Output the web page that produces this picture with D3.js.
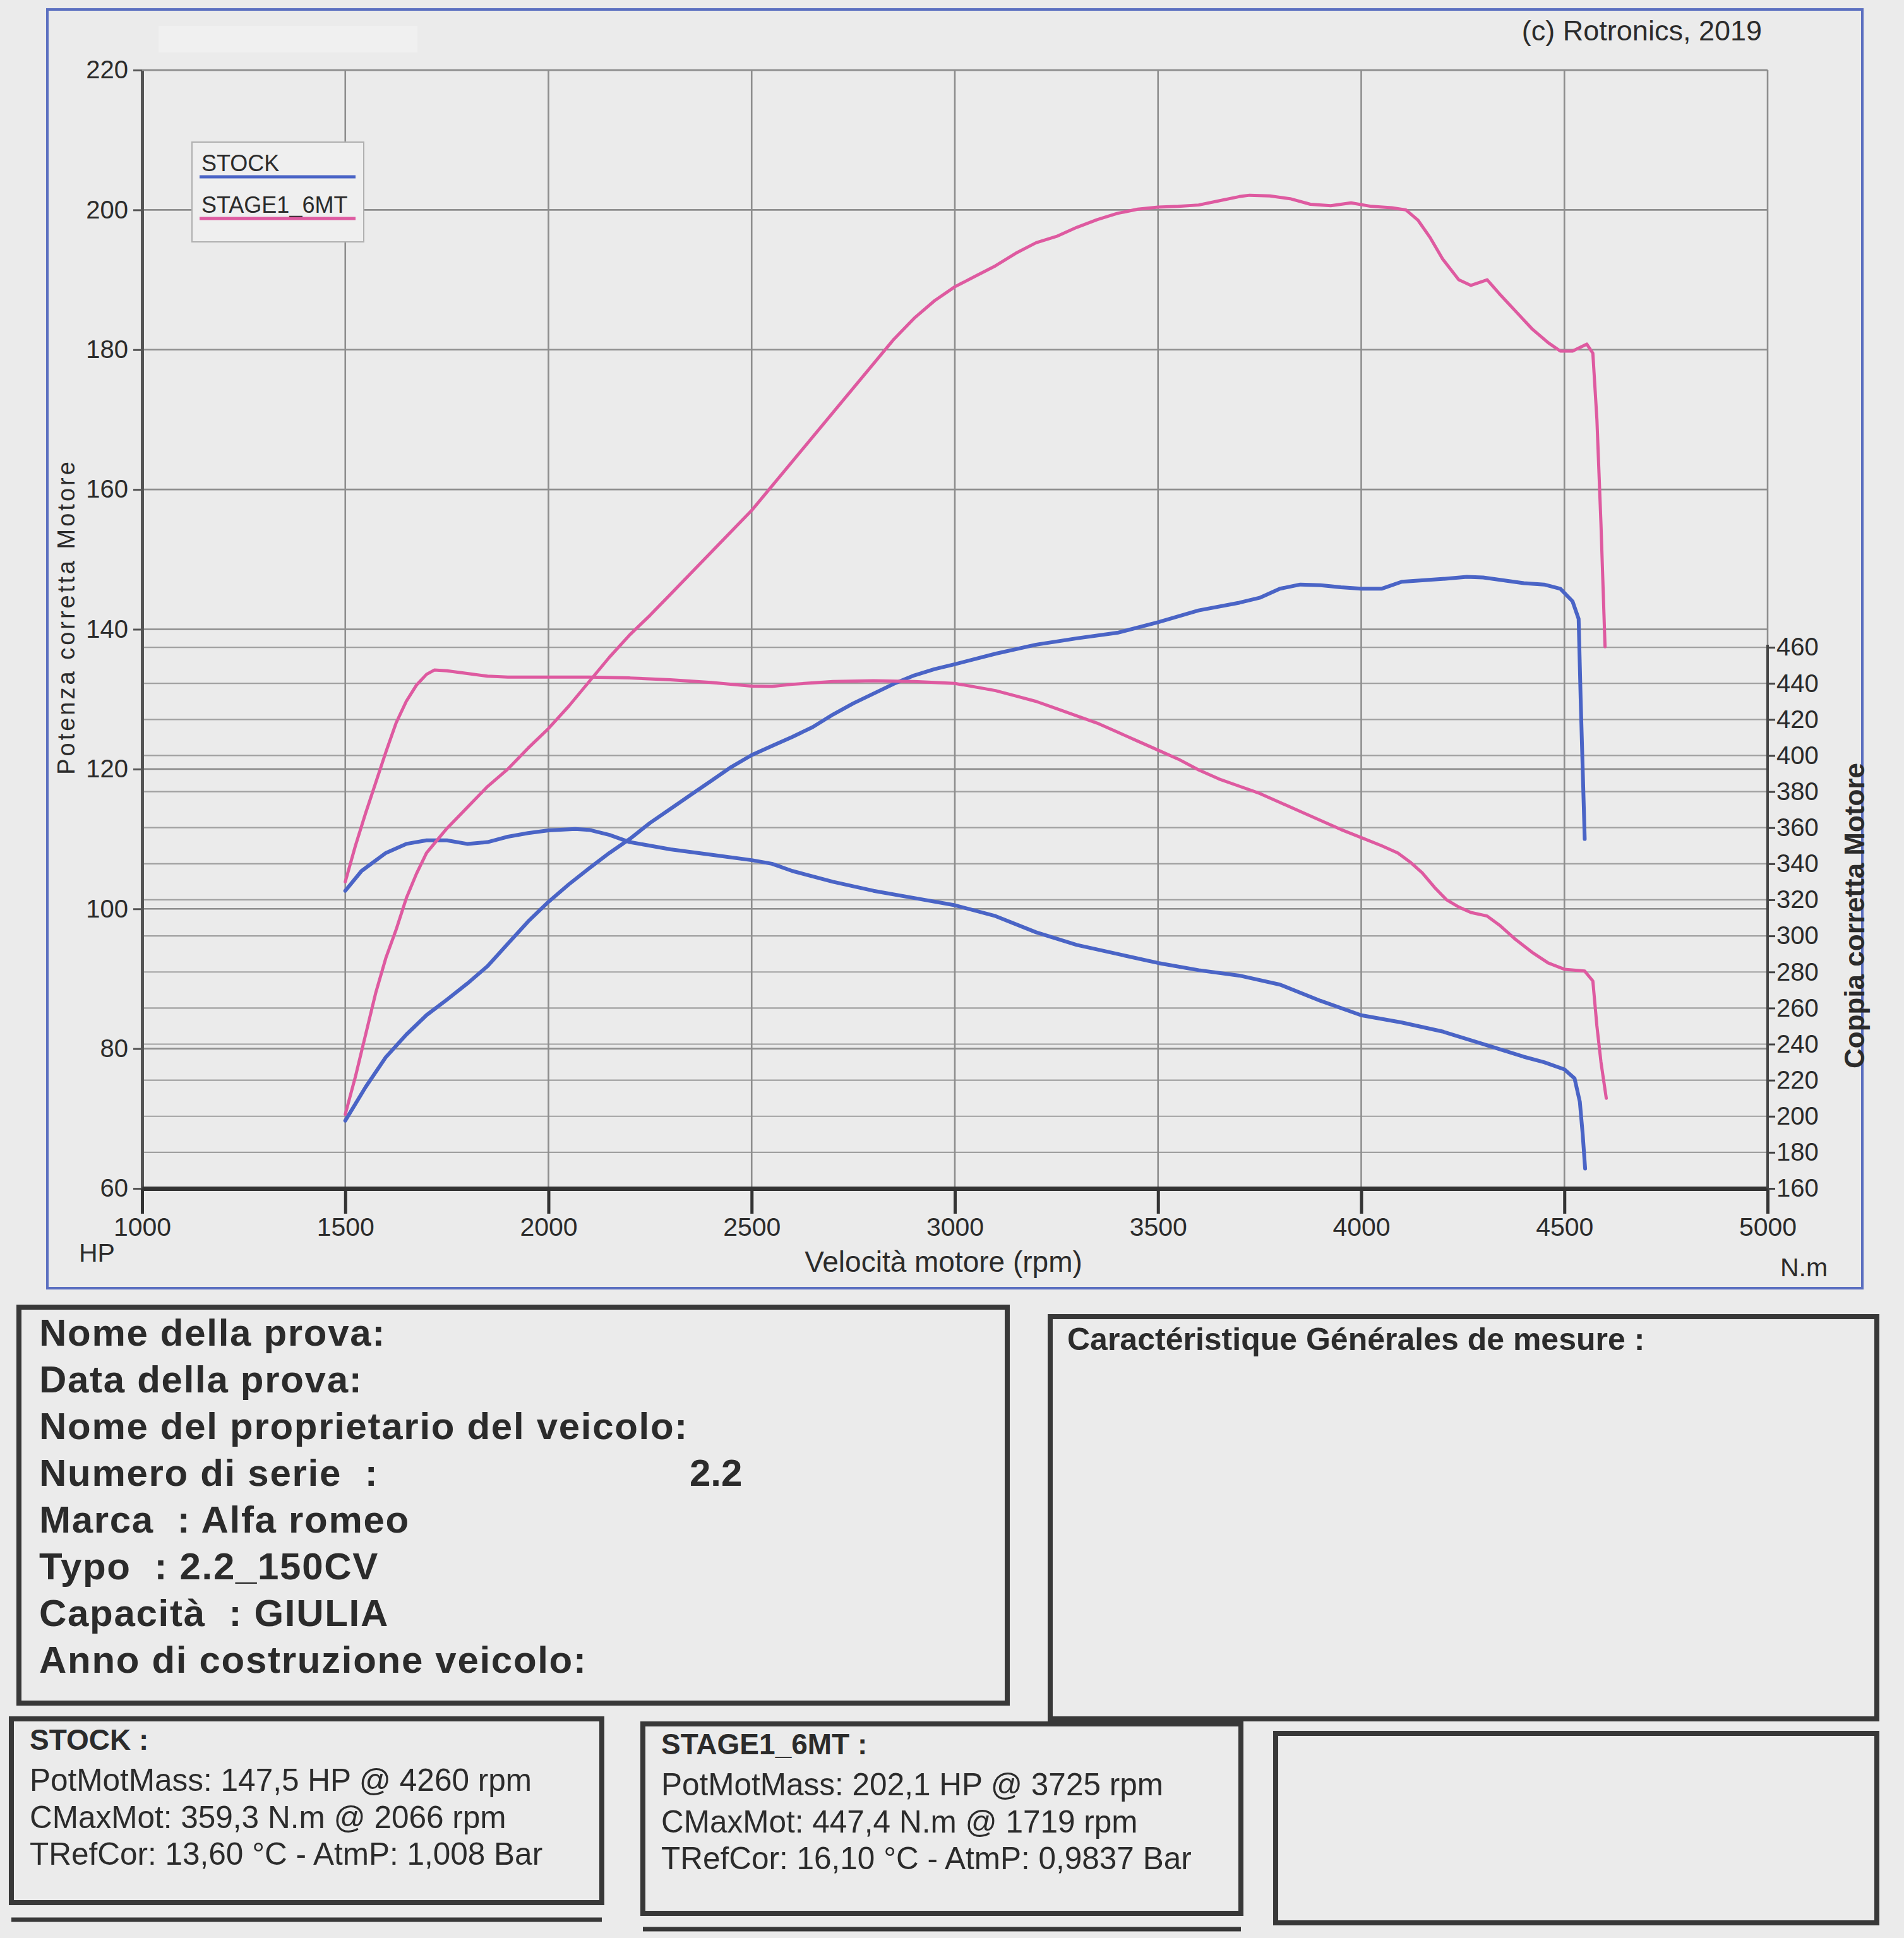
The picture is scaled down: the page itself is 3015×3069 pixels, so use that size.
<!DOCTYPE html>
<html>
<head>
<meta charset="utf-8">
<script src="https://cdn.jsdelivr.net/npm/d3@7/dist/d3.min.js"></script>
<style>
body { margin: 0; background: #ebebeb; }
svg text { font-family: "Liberation Sans", Arial, sans-serif; fill: #2b2b2b; white-space: pre; }
</style>
</head>
<body>
<svg id="chart" width="3015" height="3069"></svg>
<script>

// axis ticks
var rpmTicks = [1000, 1500, 2000, 2500, 3000, 3500, 4000, 4500, 5000];
var hpTicks  = [60, 80, 100, 120, 140, 160, 180, 200, 220];
var nmTicks  = [160, 180, 200, 220, 240, 260, 280, 300, 320, 340, 360, 380, 400, 420, 440, 460];

var seriesNames  = ['STOCK', 'STAGE1_6MT'];
var seriesColors = ['#4a64c6', '#de5aa0'];

// STOCK - power (HP)
var stockRpm = [1500, 1550, 1600, 1650, 1700, 1750, 1800, 1850, 1900, 1950, 2000, 2050, 2100, 2150, 2200,
    2250, 2300, 2350, 2400, 2450, 2500, 2550, 2600, 2650, 2700, 2750, 2800, 2850, 2900, 2950, 3000, 3100,
    3200, 3300, 3400, 3500, 3600, 3700, 3750, 3800, 3850, 3900, 3950, 4000, 4050, 4100, 4150, 4200, 4260,
    4300, 4350, 4400, 4450, 4490, 4520, 4535, 4540, 4545, 4550];
var stockHp = [69.7, 74.5, 78.8, 82, 84.8, 87, 89.3, 91.8, 95, 98.2, 101, 103.5, 105.8, 108, 110,
    112.3, 114.3, 116.3, 118.3, 120.3, 122, 123.3, 124.6, 126, 127.8, 129.4, 130.8, 132.2, 133.4, 134.3, 135, 136.5,
    137.8, 138.7, 139.5, 141, 142.7, 143.8, 144.5, 145.8, 146.4, 146.3, 146, 145.8, 145.8, 146.8, 147, 147.2, 147.5,
    147.4, 147, 146.6, 146.4, 145.8, 144, 141.5, 130, 120, 110];

// STOCK - torque (N.m)
var stockTqRpm = [1500, 1540, 1600, 1650, 1700, 1750, 1800, 1850, 1900, 1950, 2000, 2066, 2100, 2150, 2200,
    2250, 2300, 2400, 2500, 2550, 2600, 2700, 2800, 2900, 3000, 3100, 3200, 3300, 3400, 3500, 3600, 3700,
    3800, 3900, 4000, 4050, 4100, 4200, 4300, 4400, 4450, 4500, 4525, 4538, 4545, 4551];
var stockNm = [325, 336, 346, 351, 353, 353, 351, 352, 355, 357, 358.5, 359.3, 358.8, 356, 352,
    350, 348, 345, 342, 340, 336, 330, 325, 321, 317, 311, 302, 295, 290, 285, 281, 278,
    273, 264, 256, 254, 252, 247, 240, 233, 230, 226, 221, 208, 190, 171];

// STAGE1_6MT - power (HP)
var stageRpm = [1500, 1525, 1550, 1575, 1600, 1625, 1650, 1675, 1700, 1750, 1800, 1850, 1900, 1950, 2000,
    2050, 2100, 2150, 2200, 2250, 2300, 2350, 2400, 2450, 2500, 2550, 2600, 2650, 2700, 2750, 2800, 2850,
    2900, 2950, 3000, 3050, 3100, 3150, 3200, 3250, 3300, 3350, 3400, 3450, 3500, 3550, 3600, 3650, 3700,
    3725, 3775, 3825, 3875, 3925, 3975, 4025, 4075, 4110, 4140, 4170, 4200, 4240, 4270, 4310, 4340, 4380,
    4420, 4460, 4490, 4520, 4555, 4570, 4580, 4590, 4600];
var stageHp = [70.6, 76, 82, 88, 93, 97, 101.5, 105, 108, 111.5, 114.5, 117.5, 120, 123, 125.8,
    129, 132.5, 136, 139.2, 142, 145, 148, 151, 154, 157, 160.5, 164, 167.5, 171, 174.5, 178, 181.5,
    184.5, 187, 189, 190.5, 192, 193.8, 195.3, 196.2, 197.5, 198.6, 199.5, 200.1, 200.4, 200.5, 200.7, 201.3, 201.9,
    202.1, 202, 201.6, 200.8, 200.6, 201, 200.5, 200.3, 200, 198.5, 196, 193, 190, 189.2, 190, 188, 185.5,
    183, 181, 179.8, 179.8, 180.8, 179.5, 170, 155, 137.5];

// STAGE1_6MT - torque (N.m)
var stageTqRpm = [1500, 1525, 1550, 1575, 1600, 1625, 1650, 1675, 1700, 1719, 1750, 1800, 1850, 1900, 2000,
    2100, 2200, 2300, 2400, 2500, 2550, 2600, 2700, 2800, 2900, 3000, 3050, 3100, 3150, 3200, 3250, 3300,
    3350, 3400, 3450, 3500, 3550, 3600, 3650, 3700, 3750, 3800, 3850, 3900, 3950, 4000, 4050, 4090, 4120,
    4150, 4180, 4210, 4240, 4270, 4310, 4340, 4380, 4420, 4460, 4500, 4550, 4570, 4580, 4590, 4603];
var stageNm = [330, 350, 368, 385, 402, 418, 430, 439, 445, 447.4, 447, 445.5, 444, 443.5, 443.5,
    443.5, 443, 442, 440.5, 438.5, 438.3, 439.5, 441, 441.5, 441, 440, 438, 436, 433, 430, 426, 422,
    418, 413, 408, 403, 398, 392, 387, 383, 379, 374, 369, 364, 359, 354.5, 350, 346, 341,
    335, 327, 320, 316, 313, 311, 306, 298, 291, 285, 281.5, 280.5, 275, 250, 230, 210];

// texts under the chart
var testFields = ['Nome della prova:', 'Data della prova:', 'Nome del proprietario del veicolo:',
    'Numero di serie  :', 'Marca  : Alfa romeo', 'Typo  : 2.2_150CV', 'Capacit\u00e0  : GIULIA',
    'Anno di costruzione veicolo:'];
var serialValue = '2.2';
var measureTitle = 'Caract\u00e9ristique G\u00e9n\u00e9rales de mesure :';
var stockSummary = ['STOCK :', 'PotMotMass: 147,5 HP @ 4260 rpm', 'CMaxMot: 359,3 N.m @ 2066 rpm',
    'TRefCor: 13,60 \u00b0C - AtmP: 1,008 Bar'];
var stageSummary = ['STAGE1_6MT :', 'PotMotMass: 202,1 HP @ 3725 rpm', 'CMaxMot: 447,4 N.m @ 1719 rpm',
    'TRefCor: 16,10 \u00b0C - AtmP: 0,9837 Bar'];

var svg = d3.select('#chart');

var L = 225, R = 2799, T = 111, B = 1882;

var x   = d3.scaleLinear().domain([1000, 5000]).range([L, R]);
var yHp = d3.scaleLinear().domain([60, 220]).range([B, T]);
var yNm = d3.scaleLinear().domain([160, 780]).range([B, T]);

var fmt = d3.format('d');

// page frame (blue)
svg.append('rect')
    .attr('x', 75).attr('y', 15).attr('width', 2874).attr('height', 2025)
    .attr('fill', 'none').attr('stroke', '#5b6fc0').attr('stroke-width', 4);

// faint patch at the top
svg.append('rect')
    .attr('x', 251).attr('y', 41).attr('width', 410).attr('height', 42)
    .attr('fill', '#f0f0f0');

svg.append('text')
    .attr('x', 2790).attr('y', 64)
    .attr('text-anchor', 'end')
    .attr('font-size', 45)
    .text('(c) Rotronics, 2019');

// grid
var grid = svg.append('g');

grid.selectAll('.nmgrid')
    .data(nmTicks.slice(1))
    .enter().append('line')
    .attr('x1', L).attr('x2', R)
    .attr('y1', function(d) { return yNm(d); })
    .attr('y2', function(d) { return yNm(d); })
    .attr('stroke', '#a0a0a0').attr('stroke-width', 2.2);

grid.selectAll('.hpgrid')
    .data(hpTicks.slice(1))
    .enter().append('line')
    .attr('x1', L).attr('x2', R)
    .attr('y1', function(d) { return yHp(d); })
    .attr('y2', function(d) { return yHp(d); })
    .attr('stroke', '#8e8e8e').attr('stroke-width', 2.6);

grid.selectAll('.rpmgrid')
    .data(rpmTicks.slice(1))
    .enter().append('line')
    .attr('x1', function(d) { return x(d); })
    .attr('x2', function(d) { return x(d); })
    .attr('y1', T).attr('y2', B)
    .attr('stroke', '#8e8e8e').attr('stroke-width', 2.6);

// left axis (HP)
var axL = svg.append('g')
    .attr('transform', 'translate(' + L + ',0)')
    .call(d3.axisLeft(yHp).tickValues(hpTicks).tickFormat(fmt).tickSize(14).tickPadding(8).tickSizeOuter(0));
axL.select('.domain').attr('stroke', '#555').attr('stroke-width', 5);
axL.selectAll('.tick line').attr('stroke', '#555').attr('stroke-width', 3);
axL.selectAll('.tick text').attr('font-size', 40).attr('fill', '#2b2b2b')
    .attr('font-family', '"Liberation Sans", Arial, sans-serif');

// bottom axis (rpm)
var axB = svg.append('g')
    .attr('transform', 'translate(0,' + B + ')')
    .call(d3.axisBottom(x).tickValues(rpmTicks).tickFormat(fmt).tickSize(40).tickPadding(6).tickSizeOuter(0));
axB.select('.domain').attr('stroke', '#333').attr('stroke-width', 7);
axB.selectAll('.tick line').attr('stroke', '#333').attr('stroke-width', 5);
axB.selectAll('.tick text').attr('font-size', 41).attr('fill', '#2b2b2b')
    .attr('font-family', '"Liberation Sans", Arial, sans-serif');

// right axis (N.m)
var axR = svg.append('g')
    .attr('transform', 'translate(' + R + ',0)')
    .call(d3.axisRight(yNm).tickValues(nmTicks).tickFormat(fmt).tickSize(12).tickPadding(2).tickSizeOuter(0));
axR.select('.domain').remove();
axR.append('line')
    .attr('x1', 0).attr('x2', 0)
    .attr('y1', yNm(nmTicks[0])).attr('y2', yNm(nmTicks[nmTicks.length - 1]) - 4)
    .attr('stroke', '#444').attr('stroke-width', 4);
axR.selectAll('.tick line').attr('stroke', '#444').attr('stroke-width', 3);
axR.selectAll('.tick text').attr('font-size', 40).attr('fill', '#2b2b2b')
    .attr('font-family', '"Liberation Sans", Arial, sans-serif');

// top border of plot
svg.append('line').attr('x1', L).attr('x2', R).attr('y1', T).attr('y2', T)
    .attr('stroke', '#8e8e8e').attr('stroke-width', 2.6);

// axis titles
svg.append('text')
    .attr('x', 125).attr('y', 1998)
    .attr('font-size', 41)
    .text('HP');

svg.append('text')
    .attr('x', 2819).attr('y', 2021)
    .attr('font-size', 41)
    .text('N.m');

svg.append('text')
    .attr('x', 1494).attr('y', 2014)
    .attr('text-anchor', 'middle')
    .attr('font-size', 46)
    .text('Velocit\u00e0 motore (rpm)');

svg.append('text')
    .attr('transform', 'translate(118,977) rotate(-90)')
    .attr('text-anchor', 'middle')
    .attr('font-size', 38)
    .attr('letter-spacing', 4)
    .text('Potenza corretta Motore');

svg.append('text')
    .attr('transform', 'translate(2952,1450) rotate(-90)')
    .attr('text-anchor', 'middle')
    .attr('font-size', 44)
    .attr('font-weight', 'bold')
    .text('Coppia corretta Motore');

// curves
function pairs(xs, ys) {
    return xs.map(function(r, i) { return [r, ys[i]]; });
}

var curves = [
    { data: pairs(stockRpm, stockHp),     y: yHp, color: seriesColors[0], w: 6 },
    { data: pairs(stockTqRpm, stockNm),   y: yNm, color: seriesColors[0], w: 6 },
    { data: pairs(stageRpm, stageHp),     y: yHp, color: seriesColors[1], w: 5 },
    { data: pairs(stageTqRpm, stageNm),   y: yNm, color: seriesColors[1], w: 5 }
];

curves.forEach(function(c) {
    var line = d3.line()
        .x(function(d) { return x(d[0]); })
        .y(function(d) { return c.y(d[1]); });
    svg.append('path')
        .datum(c.data)
        .attr('d', line)
        .attr('fill', 'none')
        .attr('stroke', c.color)
        .attr('stroke-width', c.w)
        .attr('stroke-linejoin', 'round')
        .attr('stroke-linecap', 'round');
});

// legend
var legend = svg.append('g');
legend.append('rect')
    .attr('x', 304).attr('y', 225).attr('width', 272).attr('height', 158)
    .attr('fill', '#efefef').attr('stroke', '#b0b0b0').attr('stroke-width', 2);

seriesNames.forEach(function(name, i) {
    legend.append('text')
        .attr('x', 319).attr('y', 271 + i * 66)
        .attr('font-size', 36)
        .text(name);
    legend.append('line')
        .attr('x1', 316).attr('x2', 563)
        .attr('y1', 280 + i * 66).attr('y2', 280 + i * 66)
        .attr('stroke', seriesColors[i]).attr('stroke-width', 5);
});

// boxes under the chart
var boxes = [
    [30, 2070, 1565, 627],
    [1663, 2085, 1309, 637],
    [18, 2722, 935, 291],
    [1018, 2730, 947, 300],
    [2020, 2745, 952, 300]
];
svg.selectAll('.box')
    .data(boxes)
    .enter().append('rect')
    .attr('x', function(d) { return d[0]; })
    .attr('y', function(d) { return d[1]; })
    .attr('width', function(d) { return d[2]; })
    .attr('height', function(d) { return d[3]; })
    .attr('fill', 'none').attr('stroke', '#383838').attr('stroke-width', 8);

svg.append('line').attr('x1', 18).attr('x2', 953).attr('y1', 3040).attr('y2', 3040)
    .attr('stroke', '#383838').attr('stroke-width', 7);
svg.append('line').attr('x1', 1018).attr('x2', 1965).attr('y1', 3055).attr('y2', 3055)
    .attr('stroke', '#383838').attr('stroke-width', 7);

testFields.forEach(function(t, i) {
    svg.append('text')
        .attr('x', 62).attr('y', 2131 + i * 74)
        .attr('font-size', 60)
        .attr('letter-spacing', 1.7)
        .attr('font-weight', 'bold')
        .text(t);
});
svg.append('text')
    .attr('x', 1092).attr('y', 2131 + 3 * 74)
    .attr('font-size', 60)
    .attr('font-weight', 'bold')
    .text(serialValue);

svg.append('text')
    .attr('x', 1690).attr('y', 2138)
    .attr('font-size', 50)
    .attr('font-weight', 'bold')
    .text(measureTitle);

function summary(lines, x0, y0) {
    lines.forEach(function(t, i) {
        svg.append('text')
            .attr('x', x0)
            .attr('y', i == 0 ? y0 : y0 + 65 + (i - 1) * 58.5)
            .attr('font-size', i == 0 ? 46 : 49.5)
            .attr('font-weight', i == 0 ? 'bold' : 'normal')
            .text(t);
    });
}
summary(stockSummary, 47, 2771);
summary(stageSummary, 1047, 2778);

</script>
</body>
</html>
